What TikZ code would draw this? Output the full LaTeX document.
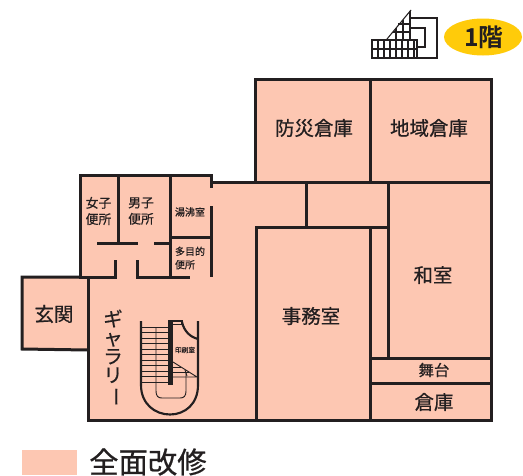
\documentclass[tikz,border=0pt]{standalone}
\usepackage{fontspec}
\usepackage{graphicx}
\setmainfont[RawFeature={embolden=0.6}]{Noto Sans CJK JP}
\newfontfamily\jpbold{Noto Sans CJK JP Bold}
\definecolor{room}{HTML}{FDC7B2}
\definecolor{wall}{HTML}{231F20}
\definecolor{badge}{HTML}{FFCB0A}
\tikzset{
  x=0.75pt,y=-0.75pt,
  wallline/.style={draw=wall,line width=2.25pt,line cap=butt,line join=miter},
  railline/.style={draw=wall,line width=1.6pt},
  hair/.style={draw=wall,line width=0.7pt},
  iconline/.style={draw=wall,line width=0.8pt},
  roomlarge/.style={inner sep=0pt,text=wall,font=\fontsize{14.6}{16}\selectfont},
  roomsmall/.style={inner sep=0pt,text=wall,align=center,font=\fontsize{9.6}{12.2}\selectfont},
  roomtiny/.style={inner sep=0pt,text=wall,align=left,font=\fontsize{7.5}{10}\selectfont},
}
\begin{document}
\begin{tikzpicture}
\useasboundingbox (0,0) rectangle (523,475);
\fill[white] (0,0) rectangle (523,475);
% floor
\fill[room] (255,79) -- (491,79) -- (491,420) -- (88,420) -- (88,350) -- (22,349) -- (22,277) -- (80,277) -- (80,175) -- (212,175) -- (212,182) -- (255,182) -- cycle;
% outer walls
\draw[wallline] (210,182) -- (255,182) -- (255,79) -- (491,79) -- (491,420) -- (88,420) -- (88,277);
\draw[wallline] (88,350) -- (22,349) -- (22,277) -- (80,277);
\draw[wallline] (115,260) -- (115,277) -- (80,277) -- (80,175) -- (211,175) -- (211,188);
% inner walls
\draw[wallline] (211,206) -- (211,277);
\draw[wallline] (118,175) -- (118,243);
\draw[wallline] (97,243) -- (138,243);
\draw[wallline] (154,243) -- (170,243);
\draw[wallline] (170,175) -- (170,277);
\draw[wallline] (170,237) -- (211,237);
\draw[wallline] (137,260) -- (137,277) -- (190,277);
\draw[wallline] (255,182) -- (491,182);
\draw[wallline] (370,79) -- (370,182);
\draw[wallline] (306,182) -- (306,227);
\draw[wallline] (256,420) -- (256,227) -- (388,227);
\draw[wallline] (388,182) -- (388,358);
\draw[wallline] (370,227) -- (370,420);
\draw[wallline] (370,358) -- (491,358);
\draw[wallline] (370,383) -- (491,383);
% staircase
\foreach \yy in {327,332.5,...,383}{\draw[hair] (141,\yy) -- (169,\yy);}
\draw[hair] (156,327) -- (156,391) .. controls (156,396) and (158,398) .. (162,398) -- (180,398) .. controls (184,398) and (186,396) .. (186,391) -- (186,372);
\draw[railline] (141,321) -- (141,385) .. controls (141,404) and (155,414.5) .. (170,414.5) .. controls (185,414.5) and (198,404) .. (198,385) -- (198,321);
\fill[wall] (168,320) rectangle (173,385);
\fill[wall] (168,320) rectangle (183,325);
\fill[room] (173,322) rectangle (181,323.5);
\draw[railline] (182,322) .. controls (184,331) and (190,337) .. (198,339);
\draw[hair] (173,362) -- (197,377) -- (173,377);
\draw[hair] (173,367) -- (181,367);
\draw[hair] (173,372) -- (189,372);
\draw[hair] (185,370) -- (187,376);
% labels
\node[roomlarge] (bosai) at (314,128) {防災倉庫};
\node[roomlarge] (chiiki) at (429,128) {地域倉庫};
\node[roomlarge] (washitsu) at (433,275) {和室};
\node[roomlarge] (jimu) at (311,316) {事務室};
\node[roomlarge] (genkan) at (54,314) {玄関};
\node[roomlarge] (souko) at (434,402) {倉庫};
\node[inner sep=0pt,text=wall,font=\fontsize{11.6}{13}\selectfont] (butai) at (434,370) {舞台};
\node[roomsmall] (women) at (98.5,211) {女子\\便所};
\node[roomsmall] (men) at (141,211) {男子\\便所};
\node[roomtiny] (yuwakashi) at (190,212) {湯沸室};
\node[roomtiny] (tamokuteki) at (190,258) {多目的\\便所};
\node[inner sep=0pt,text=wall,font=\fontsize{5}{6}\selectfont] (insatsu) at (185,350) {印刷室};
\node[inner sep=0pt,text=wall,align=center,font=\fontsize{14.6}{14}\selectfont] (gallery) at (113,358) {ギ\\ャ\\ラ\\リ\\\rotatebox[origin=c]{-90}{ー}};
% legend
\fill[room] (22,450) rectangle (77,475);
\node[inner sep=0pt,anchor=west,text=wall,font=\fontsize{22}{24}\selectfont] (legend) at (89,462) {全面改修};
% badge
\fill[badge] (483,37) ellipse [x radius=39,y radius=18.5];
\node[inner sep=0pt,text=wall,font=\jpbold\fontsize{18.5}{20}\selectfont] (floor) at (484,37) {1階};
% stair icon
\draw[iconline] (372,40) rectangle (417,58);
\draw[iconline] (372,49) -- (417,49);
\foreach \xx in {378,384,...,414}{\draw[iconline] (\xx,40) -- (\xx,58);}
\draw[iconline] (417,58) -- (437,58) -- (437,18) -- (410,18);
\draw[iconline] (410,28) -- (425,28) -- (425,47) -- (417,47);
\draw[iconline] (387,39) -- (411,10);
\foreach \xx in {396,403,410}{\draw[iconline] (\xx,{39-(\xx-387)*1.2}) -- (\xx,40);}
\draw[iconline] (398,24) -- (410,24);
\draw[iconline] (393,32) -- (410,32);
\end{tikzpicture}
\end{document}
